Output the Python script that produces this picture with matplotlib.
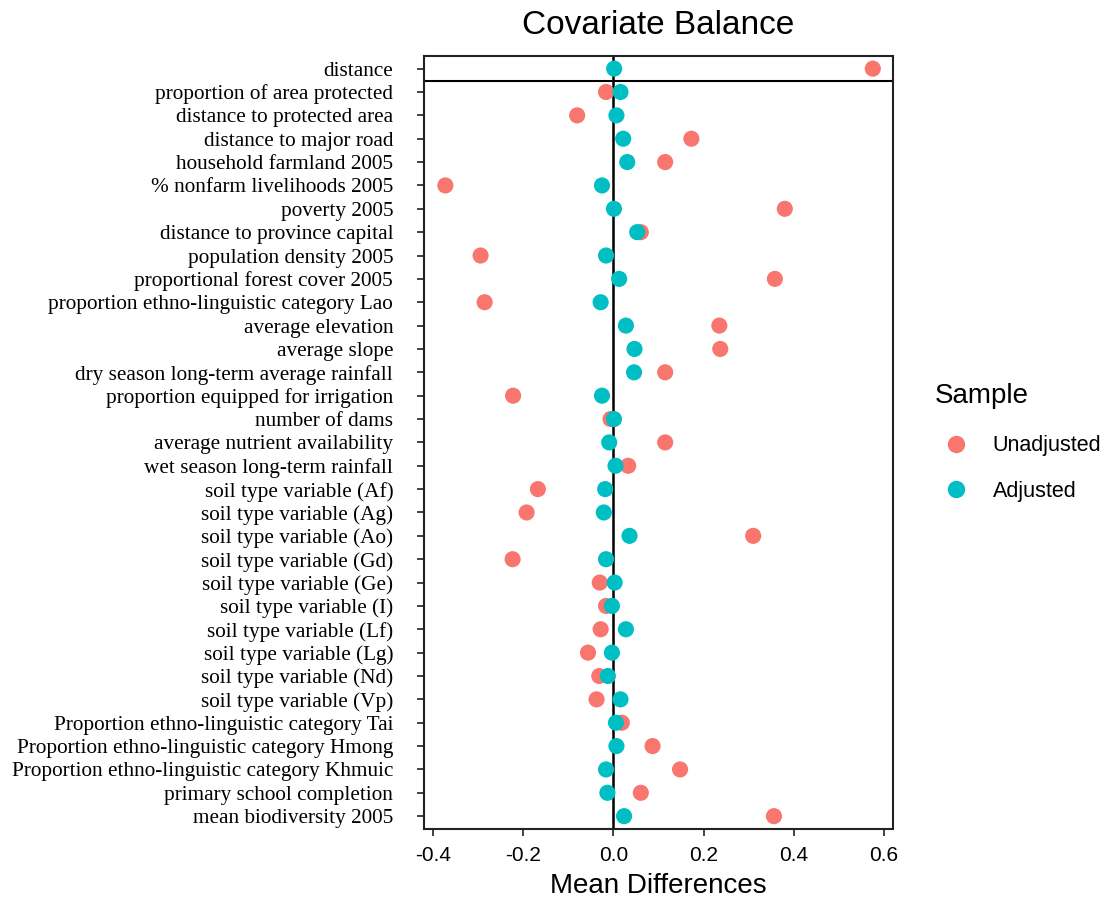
import matplotlib
matplotlib.use("Agg")
import matplotlib.pyplot as plt
from matplotlib.lines import Line2D

# covariates, top to bottom
covariates = [
    "distance",
    "proportion of area protected",
    "distance to protected area",
    "distance to major road",
    "household farmland 2005",
    "% nonfarm livelihoods 2005",
    "poverty 2005",
    "distance to province capital",
    "population density 2005",
    "proportional forest cover 2005",
    "proportion ethno-linguistic category Lao",
    "average elevation",
    "average slope",
    "dry season long-term average rainfall",
    "proportion equipped for irrigation",
    "number of dams",
    "average nutrient availability",
    "wet season long-term rainfall",
    "soil type variable (Af)",
    "soil type variable (Ag)",
    "soil type variable (Ao)",
    "soil type variable (Gd)",
    "soil type variable (Ge)",
    "soil type variable (I)",
    "soil type variable (Lf)",
    "soil type variable (Lg)",
    "soil type variable (Nd)",
    "soil type variable (Vp)",
    "Proportion ethno-linguistic category Tai",
    "Proportion ethno-linguistic category Hmong",
    "Proportion ethno-linguistic category Khmuic",
    "primary school completion",
    "mean biodiversity 2005",
]

unadjusted = [0.575, -0.016, -0.080, 0.173, 0.115, -0.372, 0.380, 0.061, -0.294, 0.358,
              -0.285, 0.235, 0.237, 0.115, -0.222, -0.006, 0.115, 0.033, -0.167, -0.192,
              0.310, -0.223, -0.030, -0.016, -0.028, -0.056, -0.031, -0.037, 0.019, 0.087,
              0.148, 0.061, 0.356]

adjusted = [0.002, 0.016, 0.007, 0.022, 0.031, -0.025, 0.0015, 0.053, -0.016, 0.013,
            -0.028, 0.028, 0.047, 0.046, -0.025, 0.0015, -0.009, 0.005, -0.018, -0.021,
            0.036, -0.016, 0.003, -0.003, 0.028, -0.003, -0.012, 0.016, 0.006, 0.007,
            -0.016, -0.013, 0.024]

xticks = [-0.4, -0.2, 0.0, 0.2, 0.4, 0.6]

col_un = "#F8766D"
col_adj = "#00BFC4"

fig = plt.figure(figsize=(11.15, 8.97), dpi=100)
ax = fig.add_axes([0.380, 0.0758, 0.421, 0.862])

ypos = list(range(len(covariates)))

ax.axvline(0, color="black", lw=1.8, zorder=1)
ax.axhline(0.54, color="black", lw=1.5, zorder=1)

ax.scatter(unadjusted, ypos, s=135, color=col_un, edgecolors="none", zorder=2)
ax.scatter(adjusted, ypos, s=135, color=col_adj, edgecolors="none", zorder=3)

ax.set_xlim(-0.42, 0.62)
ax.set_ylim(len(covariates) - 0.45, -0.55)
ax.set_yticks(ypos)
ax.set_yticklabels(covariates, fontfamily="Liberation Serif", fontsize=15.3)
ax.set_xticks(xticks)
ax.set_xticklabels(["%.1f" % t for t in xticks], fontfamily="Liberation Sans", fontsize=15)
ax.tick_params(axis="both", length=5, width=1.3, color="#333333")
ax.tick_params(axis="y", pad=17)
ax.tick_params(axis="x", pad=7)
for s in ax.spines.values():
    s.set_linewidth(1.5)
    s.set_color("#222222")

ax.set_title("Covariate Balance", fontfamily="Liberation Sans", fontsize=24, pad=16)
ax.set_xlabel("Mean Differences", fontfamily="Liberation Sans", fontsize=20, labelpad=6)

handles = [Line2D([], [], marker="o", ls="none", color=col_un, markersize=11.5),
           Line2D([], [], marker="o", ls="none", color=col_adj, markersize=11.5)]
leg = fig.legend(handles, ["Unadjusted", "Adjusted"], title="Sample",
                 loc="upper left", bbox_to_anchor=(0.838, 0.573), frameon=False,
                 prop={"family": "Liberation Sans", "size": 15.5},
                 title_fontproperties={"family": "Liberation Sans", "size": 20},
                 labelspacing=1.12, handletextpad=0.7, borderaxespad=0, borderpad=0)
leg._legend_box.align = "left"
leg._legend_box.sep = 19

fig.savefig("out.png", dpi=100)
